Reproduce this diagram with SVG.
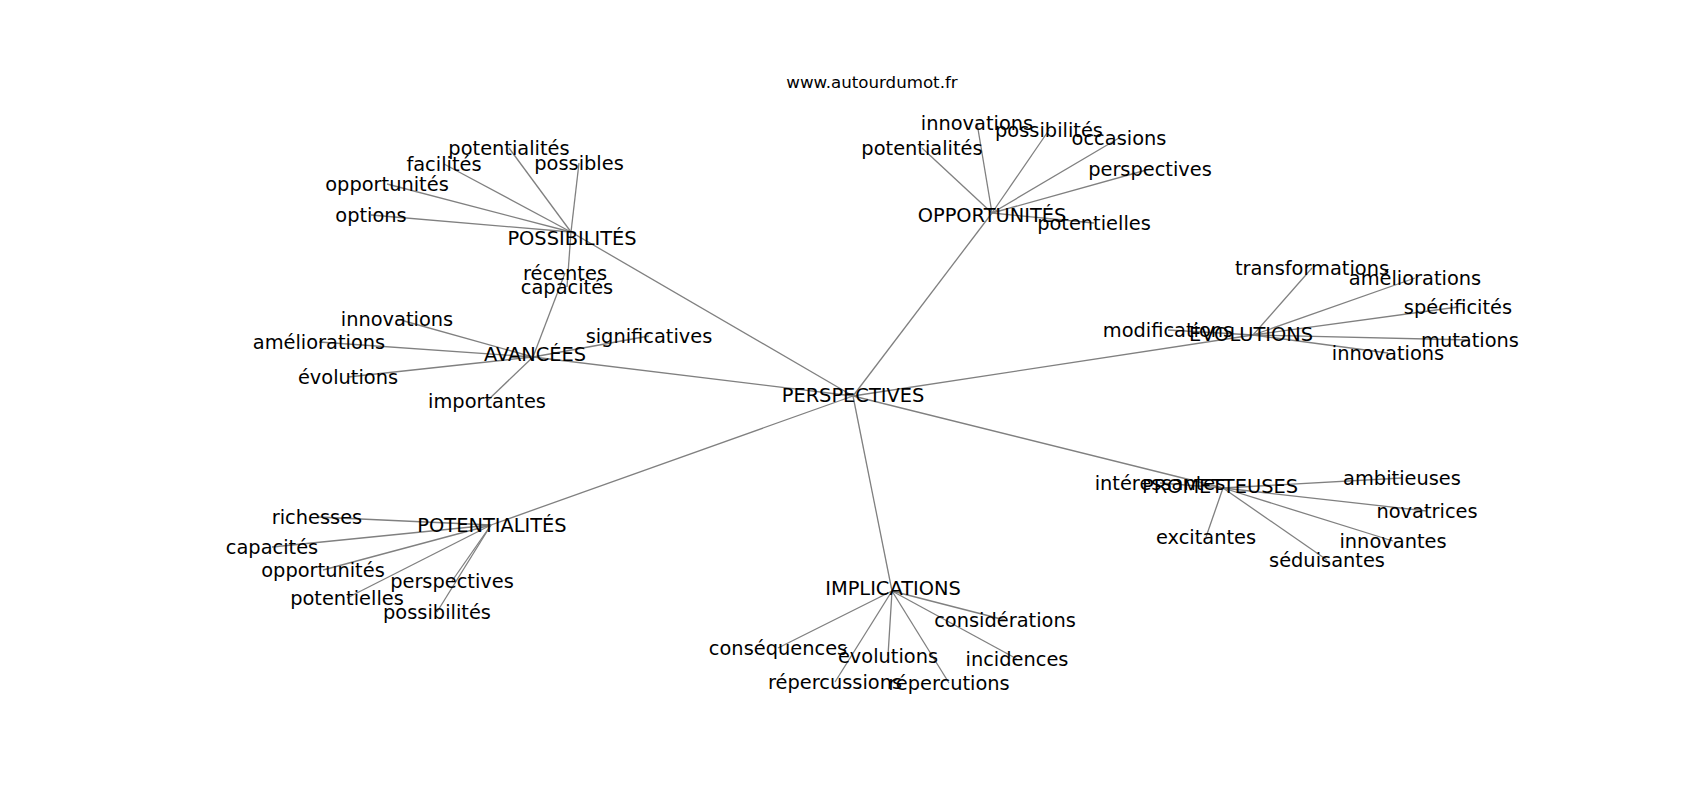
<svg xmlns="http://www.w3.org/2000/svg" width="1700" height="800" viewBox="0 0 1700 800">
<style>
text{font-family:"DejaVu Sans","Liberation Sans",sans-serif;fill:#000;text-anchor:middle}
.lab{font-size:19.4px}
.title{font-size:16.67px}
#edges line{stroke:#808080;stroke-width:1.3}
</style>
<rect width="1700" height="800" fill="#fff"/>
<text class="title" x="872" y="88">www.autourdumot.fr</text>
<g id="edges">
<line x1="853" y1="396" x2="571" y2="232"/>
<line x1="853" y1="396" x2="533" y2="357"/>
<line x1="853" y1="396" x2="992" y2="213"/>
<line x1="853" y1="396" x2="1253" y2="335"/>
<line x1="853" y1="396" x2="1223" y2="488"/>
<line x1="853" y1="396" x2="892" y2="591"/>
<line x1="853" y1="396" x2="491" y2="525"/>
<line x1="571" y1="232" x2="509" y2="148"/>
<line x1="571" y1="232" x2="444" y2="164"/>
<line x1="571" y1="232" x2="579" y2="163"/>
<line x1="571" y1="232" x2="387" y2="184"/>
<line x1="571" y1="232" x2="371" y2="215"/>
<line x1="571" y1="232" x2="567" y2="287"/>
<line x1="533" y1="357" x2="397" y2="319"/>
<line x1="533" y1="357" x2="319" y2="342"/>
<line x1="533" y1="357" x2="348" y2="377"/>
<line x1="533" y1="357" x2="649" y2="336"/>
<line x1="533" y1="357" x2="487" y2="401"/>
<line x1="533" y1="357" x2="565" y2="273"/>
<line x1="992" y1="213" x2="977" y2="123"/>
<line x1="992" y1="213" x2="1049" y2="130"/>
<line x1="992" y1="213" x2="922" y2="148"/>
<line x1="992" y1="213" x2="1119" y2="138"/>
<line x1="992" y1="213" x2="1150" y2="169"/>
<line x1="992" y1="213" x2="1094" y2="223"/>
<line x1="1253" y1="335" x2="1312" y2="268"/>
<line x1="1253" y1="335" x2="1415" y2="278"/>
<line x1="1253" y1="335" x2="1458" y2="307"/>
<line x1="1253" y1="335" x2="1470" y2="340"/>
<line x1="1253" y1="335" x2="1388" y2="353"/>
<line x1="1253" y1="335" x2="1168" y2="330"/>
<line x1="1223" y1="488" x2="1160" y2="483"/>
<line x1="1223" y1="488" x2="1402" y2="478"/>
<line x1="1223" y1="488" x2="1427" y2="511"/>
<line x1="1223" y1="488" x2="1393" y2="541"/>
<line x1="1223" y1="488" x2="1327" y2="560"/>
<line x1="1223" y1="488" x2="1206" y2="537"/>
<line x1="892" y1="591" x2="1005" y2="620"/>
<line x1="892" y1="591" x2="1017" y2="659"/>
<line x1="892" y1="591" x2="949" y2="683"/>
<line x1="892" y1="591" x2="888" y2="656"/>
<line x1="892" y1="591" x2="835" y2="682"/>
<line x1="892" y1="591" x2="778" y2="648"/>
<line x1="491" y1="525" x2="317" y2="517"/>
<line x1="491" y1="525" x2="272" y2="547"/>
<line x1="491" y1="525" x2="323" y2="570"/>
<line x1="491" y1="525" x2="347" y2="598"/>
<line x1="491" y1="525" x2="452" y2="581"/>
<line x1="491" y1="525" x2="437" y2="612"/>
</g>
<g id="n-perspectives"><text class="lab" x="853" y="401.5">PERSPECTIVES</text></g>
<g id="n-possibilites"><text class="lab" x="572" y="244.5">POSSIBILITÉS</text></g>
<g id="n-avancees"><text class="lab" x="535" y="361">AVANCÉES</text></g>
<g id="n-opportunites"><text class="lab" x="992" y="222">OPPORTUNITÉS</text></g>
<g id="n-evolutions"><text class="lab" x="1251" y="340.5">ÉVOLUTIONS</text></g>
<g id="n-prometteuses"><text class="lab" x="1220" y="492.5">PROMETTEUSES</text></g>
<g id="n-implications"><text class="lab" x="893" y="595">IMPLICATIONS</text></g>
<g id="n-potentialites"><text class="lab" x="492" y="531.5">POTENTIALITÉS</text></g>
<g id="n-pos-potentialites"><text class="lab" x="509" y="155">potentialités</text></g>
<g id="n-pos-facilites"><text class="lab" x="444" y="171">facilités</text></g>
<g id="n-pos-possibles"><text class="lab" x="579" y="170">possibles</text></g>
<g id="n-pos-opportunites"><text class="lab" x="387" y="191">opportunités</text></g>
<g id="n-pos-options"><text class="lab" x="371" y="222">options</text></g>
<g id="n-pos-capacites"><text class="lab" x="567" y="294">capacités</text></g>
<g id="n-av-innovations"><text class="lab" x="397" y="326">innovations</text></g>
<g id="n-av-ameliorations"><text class="lab" x="319" y="349">améliorations</text></g>
<g id="n-av-evolutions"><text class="lab" x="348" y="384">évolutions</text></g>
<g id="n-av-significatives"><text class="lab" x="649" y="343">significatives</text></g>
<g id="n-av-importantes"><text class="lab" x="487" y="408">importantes</text></g>
<g id="n-av-recentes"><text class="lab" x="565" y="280">récentes</text></g>
<g id="n-op-innovations"><text class="lab" x="977" y="130">innovations</text></g>
<g id="n-op-possibilites"><text class="lab" x="1049" y="137">possibilités</text></g>
<g id="n-op-potentialites"><text class="lab" x="922" y="155">potentialités</text></g>
<g id="n-op-occasions"><text class="lab" x="1119" y="145">occasions</text></g>
<g id="n-op-perspectives"><text class="lab" x="1150" y="176">perspectives</text></g>
<g id="n-op-potentielles"><text class="lab" x="1094" y="230">potentielles</text></g>
<g id="n-ev-transformations"><text class="lab" x="1312" y="275">transformations</text></g>
<g id="n-ev-ameliorations"><text class="lab" x="1415" y="285">améliorations</text></g>
<g id="n-ev-specificites"><text class="lab" x="1458" y="314">spécificités</text></g>
<g id="n-ev-mutations"><text class="lab" x="1470" y="347">mutations</text></g>
<g id="n-ev-innovations"><text class="lab" x="1388" y="360">innovations</text></g>
<g id="n-ev-modifications"><text class="lab" x="1168" y="337">modifications</text></g>
<g id="n-pr-interessantes"><text class="lab" x="1160" y="490">intéressantes</text></g>
<g id="n-pr-ambitieuses"><text class="lab" x="1402" y="485">ambitieuses</text></g>
<g id="n-pr-novatrices"><text class="lab" x="1427" y="518">novatrices</text></g>
<g id="n-pr-innovantes"><text class="lab" x="1393" y="548">innovantes</text></g>
<g id="n-pr-seduisantes"><text class="lab" x="1327" y="567">séduisantes</text></g>
<g id="n-pr-excitantes"><text class="lab" x="1206" y="544">excitantes</text></g>
<g id="n-im-considerations"><text class="lab" x="1005" y="627">considérations</text></g>
<g id="n-im-incidences"><text class="lab" x="1017" y="666">incidences</text></g>
<g id="n-im-repercutions"><text class="lab" x="949" y="690">répercutions</text></g>
<g id="n-im-evolutions"><text class="lab" x="888" y="663">évolutions</text></g>
<g id="n-im-repercussions"><text class="lab" x="835" y="689">répercussions</text></g>
<g id="n-im-consequences"><text class="lab" x="778" y="655">conséquences</text></g>
<g id="n-pt-richesses"><text class="lab" x="317" y="524">richesses</text></g>
<g id="n-pt-capacites"><text class="lab" x="272" y="554">capacités</text></g>
<g id="n-pt-opportunites"><text class="lab" x="323" y="577">opportunités</text></g>
<g id="n-pt-potentielles"><text class="lab" x="347" y="605">potentielles</text></g>
<g id="n-pt-perspectives"><text class="lab" x="452" y="588">perspectives</text></g>
<g id="n-pt-possibilites"><text class="lab" x="437" y="619">possibilités</text></g>
</svg>
